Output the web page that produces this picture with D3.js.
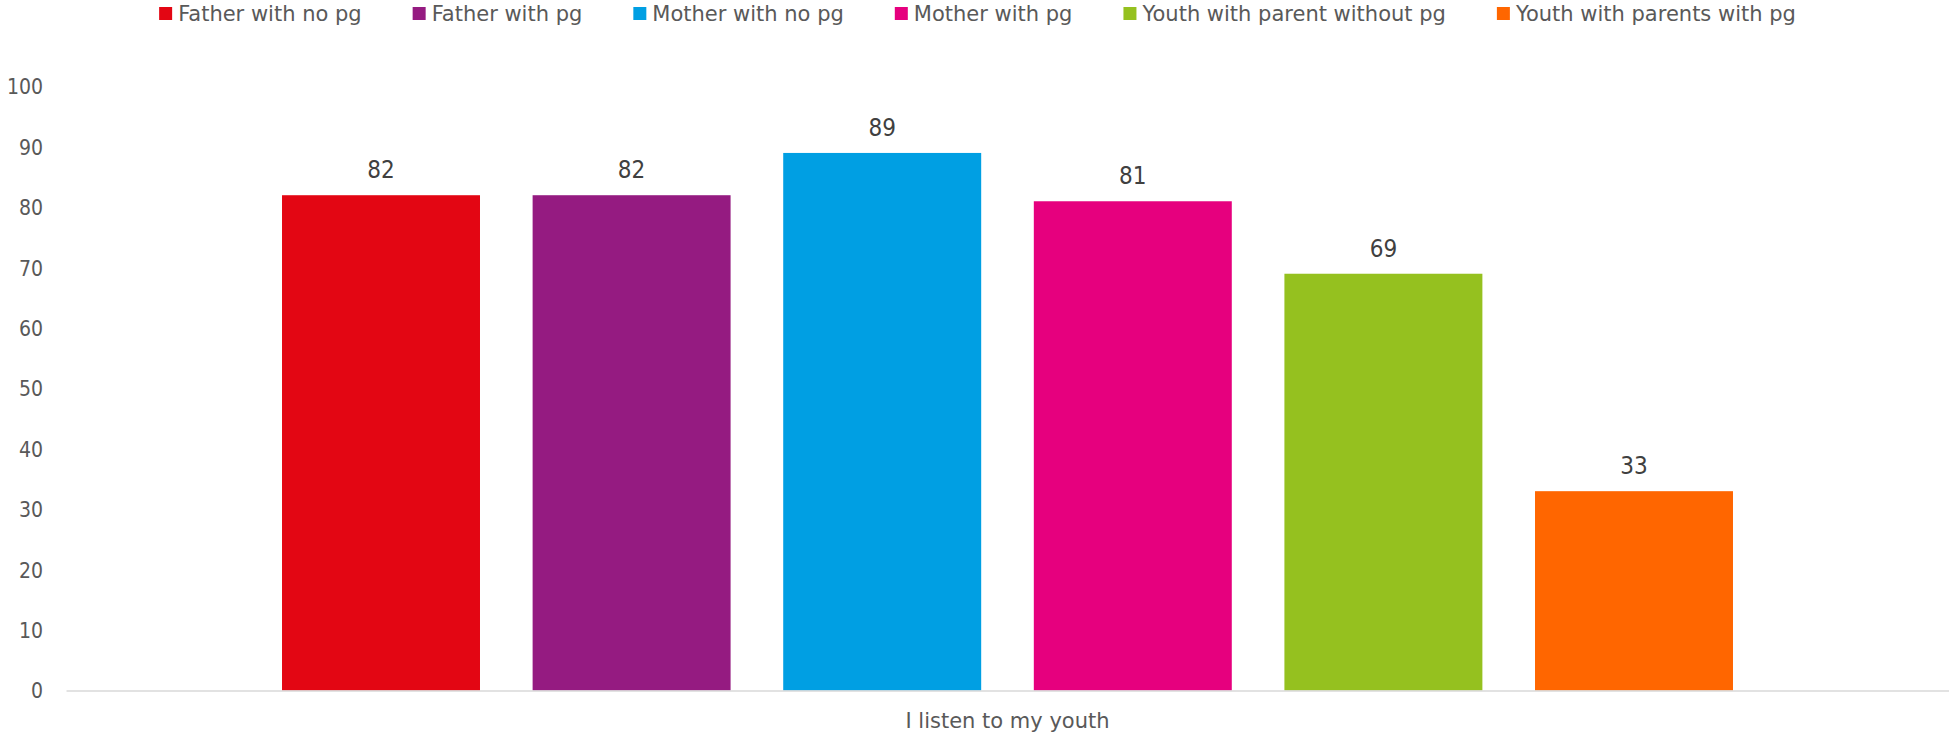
<!DOCTYPE html>
<html>
<head>
<meta charset="utf-8">
<script src="https://cdn.jsdelivr.net/npm/d3@7"></script>
<style>
  html, body { margin: 0; padding: 0; background: #fff; }
  svg { display: block; }
  text { font-family: "DejaVu Sans", sans-serif; }
  text.cond { font-family: "DejaVu Sans Condensed", "DejaVu Sans", sans-serif; }
</style>
</head>
<body>
<svg id="chart" width="1949" height="738"></svg>
<script>
// Survey item on the category axis
const categories = ["I listen to my youth"];
// One bar per respondent group
const seriesNames = [
  "Father with no pg",
  "Father with pg",
  "Mother with no pg",
  "Mother with pg",
  "Youth with parent without pg",
  "Youth with parents with pg"
];
const seriesValues = [82, 82, 89, 81, 69, 33];
const seriesColors = ["#E30613", "#951B81", "#009FE3", "#E6007E", "#95C11F", "#FF6600"];
const yTicks = [0, 10, 20, 30, 40, 50, 60, 70, 80, 90, 100];

const svg = d3.select("#chart");
const W = 1949, H = 738;
const margin = { top: 86.5, right: 0, bottom: 47.5, left: 66 };
const plotW = W - margin.left - margin.right;
const plotH = H - margin.top - margin.bottom;

const g = svg.append("g").attr("transform", `translate(${margin.left},${margin.top})`);

const y = d3.scaleLinear().domain([0, 100]).range([plotH, 0]);
const x0 = d3.scaleBand().domain(categories).range([0, plotW]).padding(0);
const x1 = d3.scaleBand().domain(seriesNames)
  .range([0, x0.bandwidth()])
  .paddingInner(0.21)
  .paddingOuter(0.862);

// Value axis: labels only, no line or ticks
const yAxis = d3.axisLeft(y).tickValues(yTicks).tickSize(0).tickPadding(23);
const yg = g.append("g").call(yAxis);
yg.select(".domain").remove();
yg.selectAll("text")
  .attr("class", "cond")
  .attr("fill", "#595959")
  .style("font-size", "21px")
  .attr("dy", "0.35em");

// Bars
const groups = g.selectAll(".cat").data(categories).join("g")
  .attr("class", "cat")
  .attr("transform", d => `translate(${x0(d)},0)`);

const rows = seriesNames.map((name, i) => ({ name, value: seriesValues[i], color: seriesColors[i] }));

groups.selectAll("rect").data(rows).join("rect")
  .attr("x", d => x1(d.name))
  .attr("y", d => y(d.value))
  .attr("width", x1.bandwidth())
  .attr("height", d => plotH - y(d.value))
  .attr("fill", d => d.color);

// Value labels above bars
groups.selectAll("text.val").data(rows).join("text")
  .attr("class", "val cond")
  .attr("x", d => x1(d.name) + x1.bandwidth() / 2)
  .attr("y", d => y(d.value) - 17)
  .attr("text-anchor", "middle")
  .attr("fill", "#404040")
  .style("font-size", "24px")
  .text(d => d.value);

// Category axis: baseline and label
const xAxis = d3.axisBottom(x0).tickSize(0).tickPadding(23);
const xg = g.append("g").attr("transform", `translate(0,${plotH})`).call(xAxis);
xg.select(".domain").attr("stroke", "#d9d9d9").attr("stroke-width", 1.5);
xg.selectAll("text")
  .attr("fill", "#595959")
  .style("font-size", "21px");

// Legend, laid out left to right and centred
const legend = svg.append("g");
const items = legend.selectAll("g").data(rows).join("g");
items.append("rect")
  .attr("width", 13).attr("height", 13)
  .attr("y", 7)
  .attr("fill", d => d.color);
items.append("text")
  .attr("x", 19)
  .attr("y", 20.5)
  .attr("fill", "#595959")
  .style("font-size", "21px")
  .text(d => d.name);

let cursor = 0;
items.each(function () {
  const it = d3.select(this);
  it.attr("transform", `translate(${cursor},0)`);
  const tw = it.select("text").node().getComputedTextLength();
  cursor += 19 + tw + 51;
});
const legendW = cursor - 51;
legend.attr("transform", `translate(${(153 + 1802) / 2 - legendW / 2},0)`);
</script>
</body>
</html>
